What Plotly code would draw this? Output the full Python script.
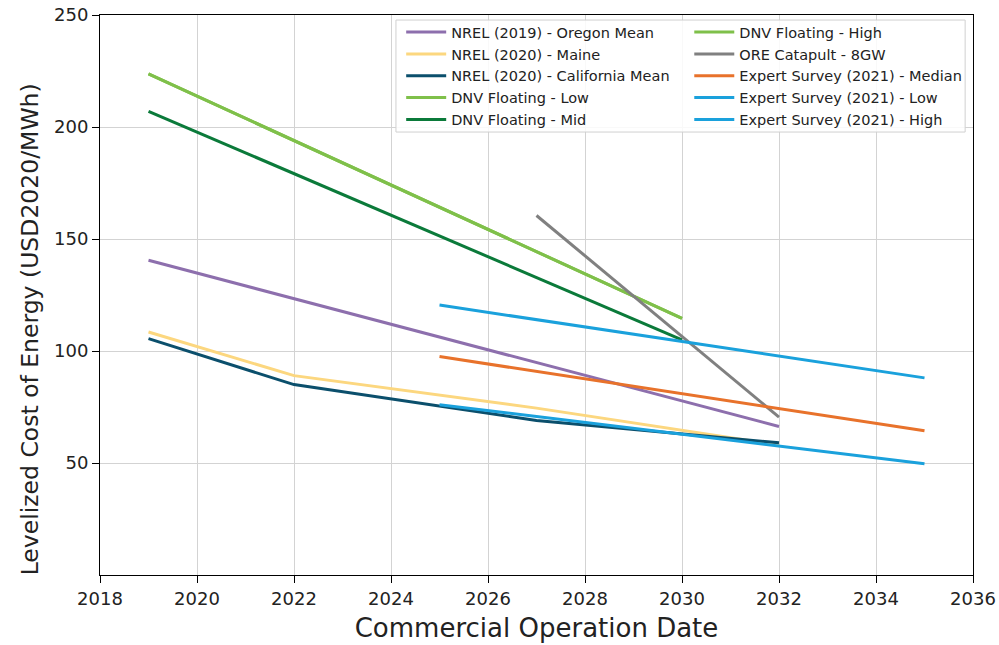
import plotly.graph_objects as go

# ---- data ----
oregon_x = [2019, 2032]
oregon_y = [140.5, 66.3]

maine_x = [2019, 2022, 2027, 2032]
maine_y = [108.5, 89.0, 74.5, 58.0]

calif_x = [2019, 2022, 2027, 2032]
calif_y = [105.5, 85.0, 69.0, 59.0]

dnv_low_x = [2019, 2030]
dnv_low_y = [223.7, 114.6]

dnv_mid_x = [2019, 2030]
dnv_mid_y = [207.0, 105.0]

dnv_high_x = [2019, 2030]
dnv_high_y = [223.7, 114.6]

ore_x = [2027, 2032]
ore_y = [160.5, 70.5]

exp_med_x = [2025, 2035]
exp_med_y = [97.5, 64.4]

exp_low_x = [2025, 2035]
exp_low_y = [76.0, 49.7]

exp_high_x = [2025, 2035]
exp_high_y = [120.5, 88.0]

x_ticks = [2018, 2020, 2022, 2024, 2026, 2028, 2030, 2032, 2034, 2036]
y_ticks = [50, 100, 150, 200, 250]

series = [
    ("NREL (2019) - Oregon Mean", oregon_x, oregon_y, "#8d6fad", "legend"),
    ("NREL (2020) - Maine", maine_x, maine_y, "#fcd77f", "legend"),
    ("NREL (2020) - California Mean", calif_x, calif_y, "#0b4f6c", "legend"),
    ("DNV Floating - Low", dnv_low_x, dnv_low_y, "#7fc04a", "legend"),
    ("DNV Floating - Mid", dnv_mid_x, dnv_mid_y, "#0b7a3a", "legend"),
    ("DNV Floating - High", dnv_high_x, dnv_high_y, "#7fc04a", "legend2"),
    ("ORE Catapult - 8GW", ore_x, ore_y, "#808080", "legend2"),
    ("Expert Survey (2021) - Median", exp_med_x, exp_med_y, "#e8722b", "legend2"),
    ("Expert Survey (2021) - Low", exp_low_x, exp_low_y, "#1aa1dc", "legend2"),
    ("Expert Survey (2021) - High", exp_high_x, exp_high_y, "#1aa1dc", "legend2"),
]

fig = go.Figure()
for name, xs, ys, color, leg in series:
    fig.add_trace(go.Scatter(
        x=xs, y=ys, mode="lines", name=name,
        line=dict(color=color, width=3),
        legend=leg,
    ))

font_family = "DejaVu Sans"
leg_common = dict(
    orientation="v", xanchor="left", yanchor="top",
    font=dict(size=14.5, family=font_family, color="#222"),
    bgcolor="rgba(0,0,0,0)", borderwidth=0, itemwidth=40,
    traceorder="normal",
)
fig.update_layout(
    width=999, height=645,
    margin=dict(l=100, r=26, t=15, b=70),
    plot_bgcolor="white", paper_bgcolor="white",
    font=dict(family=font_family, color="#222"),
    showlegend=True,
    legend=dict(x=0.345, y=0.998, **leg_common),
    legend2=dict(x=0.675, y=0.998, **leg_common),
    shapes=[dict(
        type="rect", xref="paper", yref="paper",
        x0=0.339, x1=0.991, y0=0.791, y1=0.991,
        line=dict(color="#d0d0d0", width=1),
        fillcolor="rgba(255,255,255,0.85)", layer="above",
    )],
    annotations=[dict(
        text="Levelized Cost of Energy (USD2020/MWh)",
        xref="paper", yref="paper", x=-0.080, y=0.439,
        xanchor="center", yanchor="middle", textangle=-90,
        showarrow=False,
        font=dict(size=23.5, family=font_family, color="#222"),
    )],
)
fig.update_xaxes(
    range=[2018, 2036], tickvals=x_ticks, ticktext=[str(t) for t in x_ticks],
    automargin=False,
    showgrid=True, gridcolor="#d3d3d3", gridwidth=1,
    showline=True, linecolor="black", linewidth=1, mirror=True,
    ticks="outside", ticklen=7, tickcolor="black",
    tickfont=dict(size=18, family=font_family, color="#222"),
    title=dict(text="Commercial Operation Date", font=dict(size=26, family=font_family, color="#222"), standoff=11),
    zeroline=False,
)
fig.update_yaxes(
    range=[0, 250], tickvals=y_ticks,
    automargin=False,
    showgrid=True, gridcolor="#d3d3d3", gridwidth=1,
    showline=True, linecolor="black", linewidth=1, mirror=True,
    ticks="outside", ticklen=7, tickcolor="black",
    tickfont=dict(size=18, family=font_family, color="#222"),
    zeroline=False,
)

fig.write_html("out.html")
